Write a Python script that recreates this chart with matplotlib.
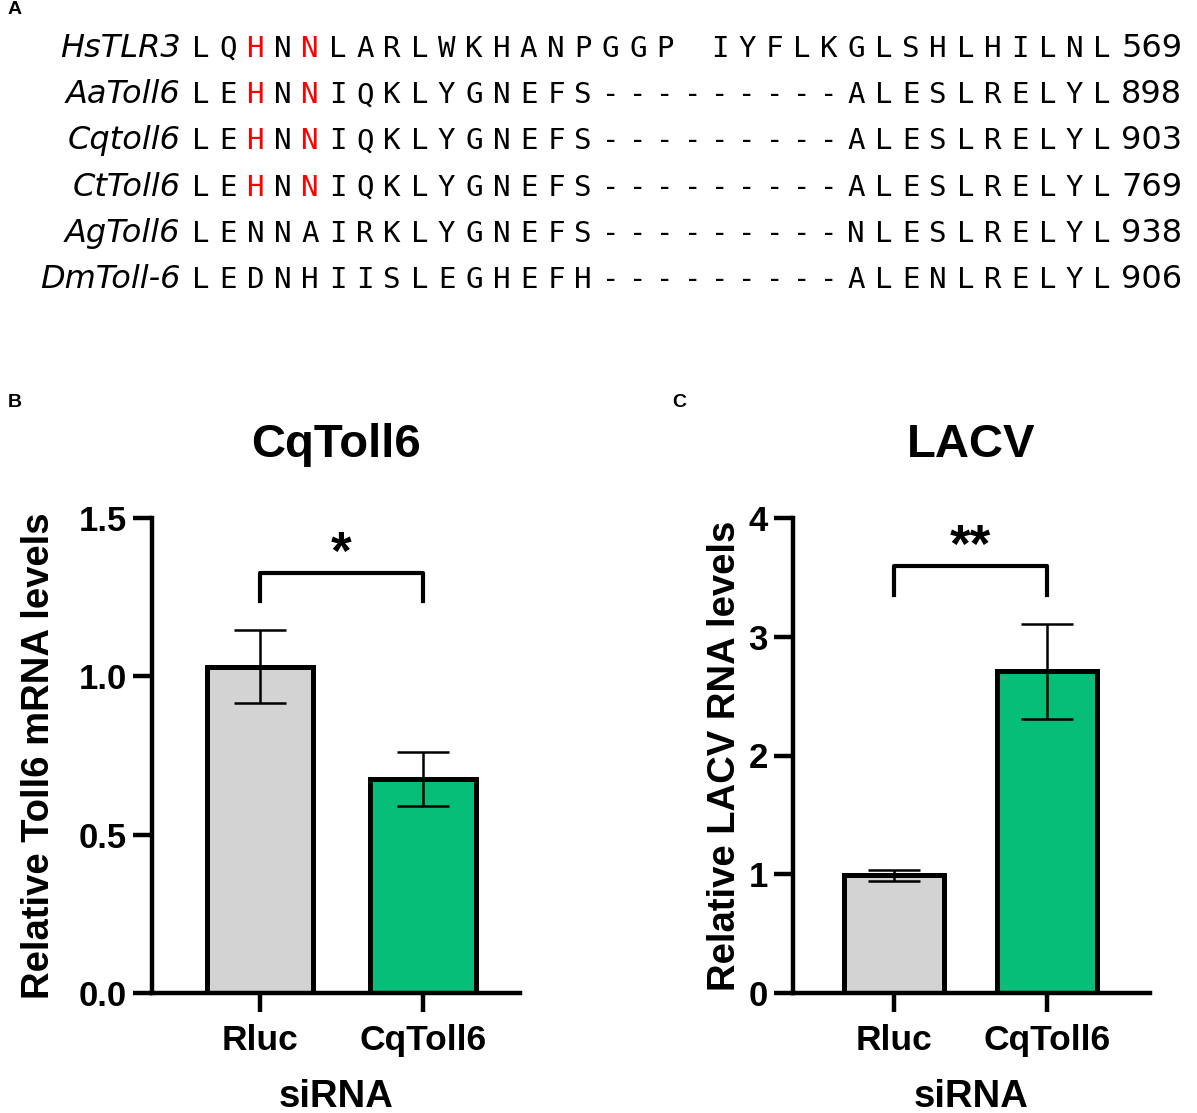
import matplotlib.pyplot as plt
import numpy as np

# panel A: alignment
species = ["HsTLR3", "AaToll6", "Cqtoll6", "CtToll6", "AgToll6", "DmToll-6"]
sequences = [
    "LQHNNLARLWKHANPGGP IYFLKGLSHLHILNL",
    "LEHNNIQKLYGNEFS---------ALESLRELYL",
    "LEHNNIQKLYGNEFS---------ALESLRELYL",
    "LEHNNIQKLYGNEFS---------ALESLRELYL",
    "LENNAIRKLYGNEFS---------NLESLRELYL",
    "LEDNHIISLEGHEFH---------ALENLRELYL",
]
end_pos = [569, 898, 903, 769, 938, 906]
red_rows = [0, 1, 2, 3]
red_cols = [2, 4]

# panels B and C
groups = ["Rluc", "CqToll6"]
toll6_mean = [1.03, 0.675]
toll6_err = [0.115, 0.085]
lacv_mean = [0.99, 2.71]
lacv_err = [0.05, 0.40]
bar_colors = ["#D3D3D3", "#06BE78"]

W, H = 1197, 1113
fig = plt.figure(figsize=(W / 100, H / 100), dpi=100)

# ---- A ----
axA = fig.add_axes([0, 1 - 300 / H, 1, 300 / H])
axA.axis("off")
col0, colw = 201, 27.3
row0, rowh = 46, 46.2
axA.set_xlim(-col0 / colw, (W - col0) / colw)
axA.set_ylim((300 - row0) / rowh, -row0 / rowh)
for r, (name, seq, num) in enumerate(zip(species, sequences, end_pos)):
    yb = r + 11 / rowh
    axA.text(-0.75, yb, name, ha="right", va="baseline", fontsize=23,
             style="italic", family="DejaVu Sans")
    for c, ch in enumerate(seq):
        col = "red" if (r in red_rows and c in red_cols) else "black"
        axA.text(c, yb, ch, ha="center", va="baseline", fontsize=21,
                 color=col, family="DejaVu Sans Mono")
    axA.text(len(seq) - 0.3, yb, str(num), ha="left", va="baseline",
             fontsize=23, family="DejaVu Sans")

plt.rcParams["font.family"] = "Liberation Sans"
plt.rcParams["font.weight"] = "bold"

fig.text(8 / W, 1 - 10 / H, "A", fontsize=14, weight="bold", va="center")
fig.text(8 / W, 1 - 402 / H, "B", fontsize=14, weight="bold", va="center")
fig.text(672 / W, 1 - 402 / H, "C", fontsize=14, weight="bold", va="center")


def bar_panel(rect, means, errs, ylim, yticks, ylabel, title, xlim,
              bracket_y, leg_y, stars, tick_fmt, ylabelpad):
    ax = fig.add_axes(rect)
    x = np.arange(len(means))
    ax.bar(x, means, width=0.65, color=bar_colors, edgecolor="black",
           linewidth=3.6, zorder=2)
    ax.errorbar(x, means, yerr=errs, fmt="none", ecolor="black",
                elinewidth=1.8, capsize=19, capthick=1.8, zorder=3)
    ax.set_xlim(*xlim)
    ax.set_ylim(*ylim)
    ax.set_yticks(yticks)
    ax.set_yticklabels([tick_fmt.format(v) for v in yticks])
    ax.set_xticks(x)
    ax.set_xticklabels(groups)
    for s in ["top", "right"]:
        ax.spines[s].set_visible(False)
    for s in ["left", "bottom"]:
        ax.spines[s].set_linewidth(3.2)
    ax.tick_params(axis="y", width=3.2, length=14, labelsize=25, pad=4)
    ax.tick_params(axis="x", width=3.2, length=14, labelsize=25.5, pad=8)
    ax.set_ylabel(ylabel, fontsize=27.5, weight="bold", labelpad=ylabelpad)
    ax.set_xlabel("siRNA", fontsize=27.5, weight="bold", labelpad=16)
    ax.set_title(title, fontsize=34, weight="bold", pad=44)
    ax.plot([0, 0, 1, 1], [leg_y, bracket_y, bracket_y, leg_y],
            color="black", lw=3, clip_on=False)
    ax.annotate(stars, (0.5, bracket_y), xytext=(0, 3),
                textcoords="offset points", ha="center", va="baseline",
                fontsize=38, weight="bold", annotation_clip=False)
    return ax


bar_panel([152 / W, 1 - 993 / H, 368 / W, 475 / H], toll6_mean, toll6_err,
          (0, 1.5), [0.0, 0.5, 1.0, 1.5], "Relative Toll6 mRNA levels",
          "CqToll6", (-0.663, 1.595), 1.326, 1.238, "*", "{:.1f}", 16)
bar_panel([793 / W, 1 - 993 / H, 357 / W, 475 / H], lacv_mean, lacv_err,
          (0, 4), [0, 1, 2, 3, 4], "Relative LACV RNA levels",
          "LACV", (-0.66, 1.673), 3.595, 3.35, "**", "{:d}", 4)

fig.savefig("out.png", dpi=100)
